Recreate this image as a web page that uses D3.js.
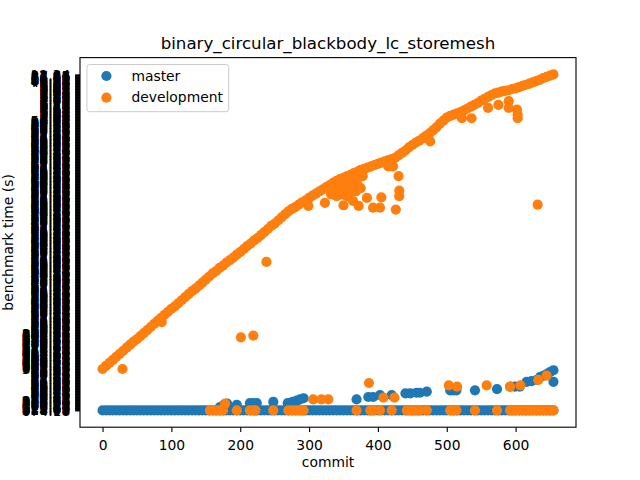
<!DOCTYPE html>
<html><head><meta charset="utf-8">
<script src="https://cdn.jsdelivr.net/npm/d3@7"></script>
<style>body{margin:0;background:#fff}svg{display:block}</style>
</head><body>
<svg id="chart" width="640" height="480"></svg>
<script>
// ---------------- data ----------------
const chartTitle = "binary_circular_blackbody_lc_storemesh";
const xLabel = "commit";
const yLabel = "benchmark time (s)";
const seriesNames = ["master", "development"];
const seriesColors = ["#1f77b4", "#ff7f0e"];
const xTickValues = [0, 100, 200, 300, 400, 500, 600];
const lastCommit = 655;
const yCategoryMax = 552;               // y axis is categorical: one category per distinct time string

// master: the common (first) category for every commit, sampled every 5 commits
const masterBaseCommits = d3.range(0, lastCommit + 1, 5);
const masterBaseCategory = 0;
// master points lifted above the base category: [commit, category]
const masterExtra = [[170,5],[176,9],[181,11],[195,9],[214,12],[219,12],[224,12],[248,14],
  [269,12],[276,14],[282,16],[287,18],[292,20],[369,18],[386,22],[393,22],[403,25],[420,25],
  [440,28],[447,28],[456,29],[461,29],[471,31],[505,33],[510,33],[514,33],[541,33],[573,35],
  [592,39],[599,39],[606,39],[616,47],[623,48],[631,50],[636,55],[641,57],[646,60],[650,63],
  [655,66],[655,47]];

// development: main trend, sampled every 5 commits
const devMainCommits = d3.range(0, lastCommit + 1, 5);
const devMain = [68,73,78,83,88,93,98,103,108,113, 117,122,127,132,137,142,147,152,157,162,
  167,171,176,181,186,191,196,200,205,210, 215,220,225,229,234,238,243,247,251,256,
  260,265,270,274,279,283,288,293,298,303, 307,312,317,322,327,331,334,338,342,345,
  349,353,356,360,363,367,370,374,377,380, 382,385,387,390,392,395,397,399,401,403,
  405,407,409,411,413,415,419,423,427,432, 436,440,443,447,451,455,460,465,471,476,
  481,484,486,488,490,493,496,499,502,505, 509,512,515,518,521,522,524,525,526,528,
  529,531,533,535,537,539,541,543,546,548, 550,552];
// development points off the trend: [commit, category]
const devExtra = [[29,68],[86,145],[201,120],[219,123],[238,244],[299,336],[323,341],
  [330,362],[332,355],[335,358],[338,366],[340,352],[342,360],[345,368],[347,355],[348,362],
  [352,370],[355,364],[355,352],[358,374],[360,358],[362,368],[366,378],[368,360],[370,372],
  [372,385],[375,365],[378,385],[350,337],[364,344],[372,336],[384,349],[393,333],[403,333],
  [405,350],[415,401],[422,401],[426,330],[430,385],[431,361],[431,352],[476,442],[522,480],
  [536,480],[560,497],[575,502],[590,508],[590,497],[602,494],[603,486],[603,480],[632,338],
  [178,11],[306,18],[318,18],[328,18],[387,45],[408,21],[424,21],[503,41],[515,39],[558,41],
  [592,39],[607,41],[633,50],[645,57]];
// development commits that share master's base category
const devAtBase = [156,161,166,171,175,195,214,219,222,248,270,276,282,288,292,369,389,393,
  403,420,442,447,452,457,461,471,505,510,514,541,573,592,596,600,605,610,614,618,622,626,
  630,635,640,644,648,652,655];

// y tick label lengths (characters) by category range
const yLabelLengthRuns = [[0,17,6],[18,68,5],[69,127,6],[128,476,5],[477,539,4],[540,552,5]];

// ---------------- drawing ----------------
const W = 640, H = 480;
const L = 80, R = 576, T = 57.6, B = 427.2;
const FS = 13.89;
const svg = d3.select("#chart");
const font = "DejaVu Sans, sans-serif";

const xPad = 0.05 * lastCommit;
const x = d3.scaleLinear().domain([-xPad, lastCommit + xPad]).range([L, R]);
const yPad = 0.05 * yCategoryMax;
const y = d3.scaleLinear().domain([-yPad, yCategoryMax + yPad]).range([B, T]);

const masterPts = masterBaseCommits.map(c => [c, masterBaseCategory]).concat(masterExtra);
const devPts = devMainCommits.map((c, i) => [c, devMain[i]])
  .concat(devExtra)
  .concat(devAtBase.map(c => [c, masterBaseCategory]));

const R_MARK = 5.1;
const plot = svg.append("g");
plot.selectAll("circle.m").data(masterPts).join("circle")
  .attr("cx", d => x(d[0])).attr("cy", d => y(d[1])).attr("r", R_MARK)
  .attr("fill", seriesColors[0]);
plot.selectAll("circle.d").data(devPts).join("circle")
  .attr("class", "d")
  .attr("cx", d => x(d[0])).attr("cy", d => y(d[1])).attr("r", R_MARK)
  .attr("fill", seriesColors[1]);

// spines
svg.append("rect").attr("x", L).attr("y", T).attr("width", R - L).attr("height", B - T)
  .attr("fill", "none").attr("stroke", "#000").attr("stroke-width", 1.11);

// x axis
const xAxis = d3.axisBottom(x).tickValues(xTickValues).tickSize(4.86).tickPadding(4.86)
  .tickFormat(d3.format("d"));
const gx = svg.append("g").attr("transform", `translate(0,${B})`).call(xAxis);
gx.select(".domain").remove();
gx.selectAll(".tick line").attr("stroke", "#000").attr("stroke-width", 1.11);
gx.selectAll(".tick text").attr("font-family", font).attr("font-size", FS)
  .attr("fill", "#000").attr("dy", null).attr("y", 22.8);

// y axis: one tick per category
function labelLength(i) {
  for (const r of yLabelLengthRuns) if (i >= r[0] && i <= r[1]) return r[2];
  return 5;
}
function catLabel(i) {
  const n = labelLength(i);
  const dg = k => String((i * (2 * k + 3) + k * 7 + Math.floor(i / 10)) % 10);
  if (n === 6) return dg(0) + dg(1) + dg(2) + "." + dg(3) + dg(4);
  if (n === 4) return dg(0) + "." + dg(1) + dg(2);
  return dg(0) + dg(1) + "." + dg(2) + dg(3);
}
const yAxis = d3.axisLeft(y).tickValues(d3.range(0, yCategoryMax + 1)).tickSize(4.86)
  .tickPadding(4.86).tickFormat(catLabel);
const gy = svg.append("g").attr("transform", `translate(${L},0)`).call(yAxis);
gy.select(".domain").remove();
gy.selectAll(".tick line").attr("stroke", "#000").attr("stroke-width", 1.11);
gy.selectAll(".tick text").attr("font-family", font).attr("font-size", FS)
  .attr("fill", "#000").attr("dy", "0.36em");
gy.attr("font-family", null).attr("font-size", null);
gx.attr("font-family", null).attr("font-size", null);

// titles
svg.append("text").attr("x", (L + R) / 2).attr("y", 49.3).attr("text-anchor", "middle")
  .attr("font-family", font).attr("font-size", 16.67).text(chartTitle);
svg.append("text").attr("x", (L + R) / 2).attr("y", 467).attr("text-anchor", "middle")
  .attr("font-family", font).attr("font-size", FS).text(xLabel);
svg.append("text").attr("transform", `translate(12.8,${(T + B) / 2}) rotate(-90)`)
  .attr("text-anchor", "middle").attr("font-family", font).attr("font-size", FS).text(yLabel);

// legend
const lg = svg.append("g");
lg.append("rect").attr("x", 86.9).attr("y", 64.5).attr("width", 141.8).attr("height", 47.2)
  .attr("rx", 2.8).attr("fill", "#fff").attr("fill-opacity", 0.8)
  .attr("stroke", "#cccccc").attr("stroke-width", 1);
const legendRows = [76, 97.7];
seriesNames.forEach((name, i) => {
  lg.append("circle").attr("cx", 106.4).attr("cy", legendRows[i]).attr("r", R_MARK)
    .attr("fill", seriesColors[i]);
  lg.append("text").attr("x", 131.4).attr("y", legendRows[i] + 4.7)
    .attr("font-family", font).attr("font-size", FS).text(name);
});
</script>
</body></html>
